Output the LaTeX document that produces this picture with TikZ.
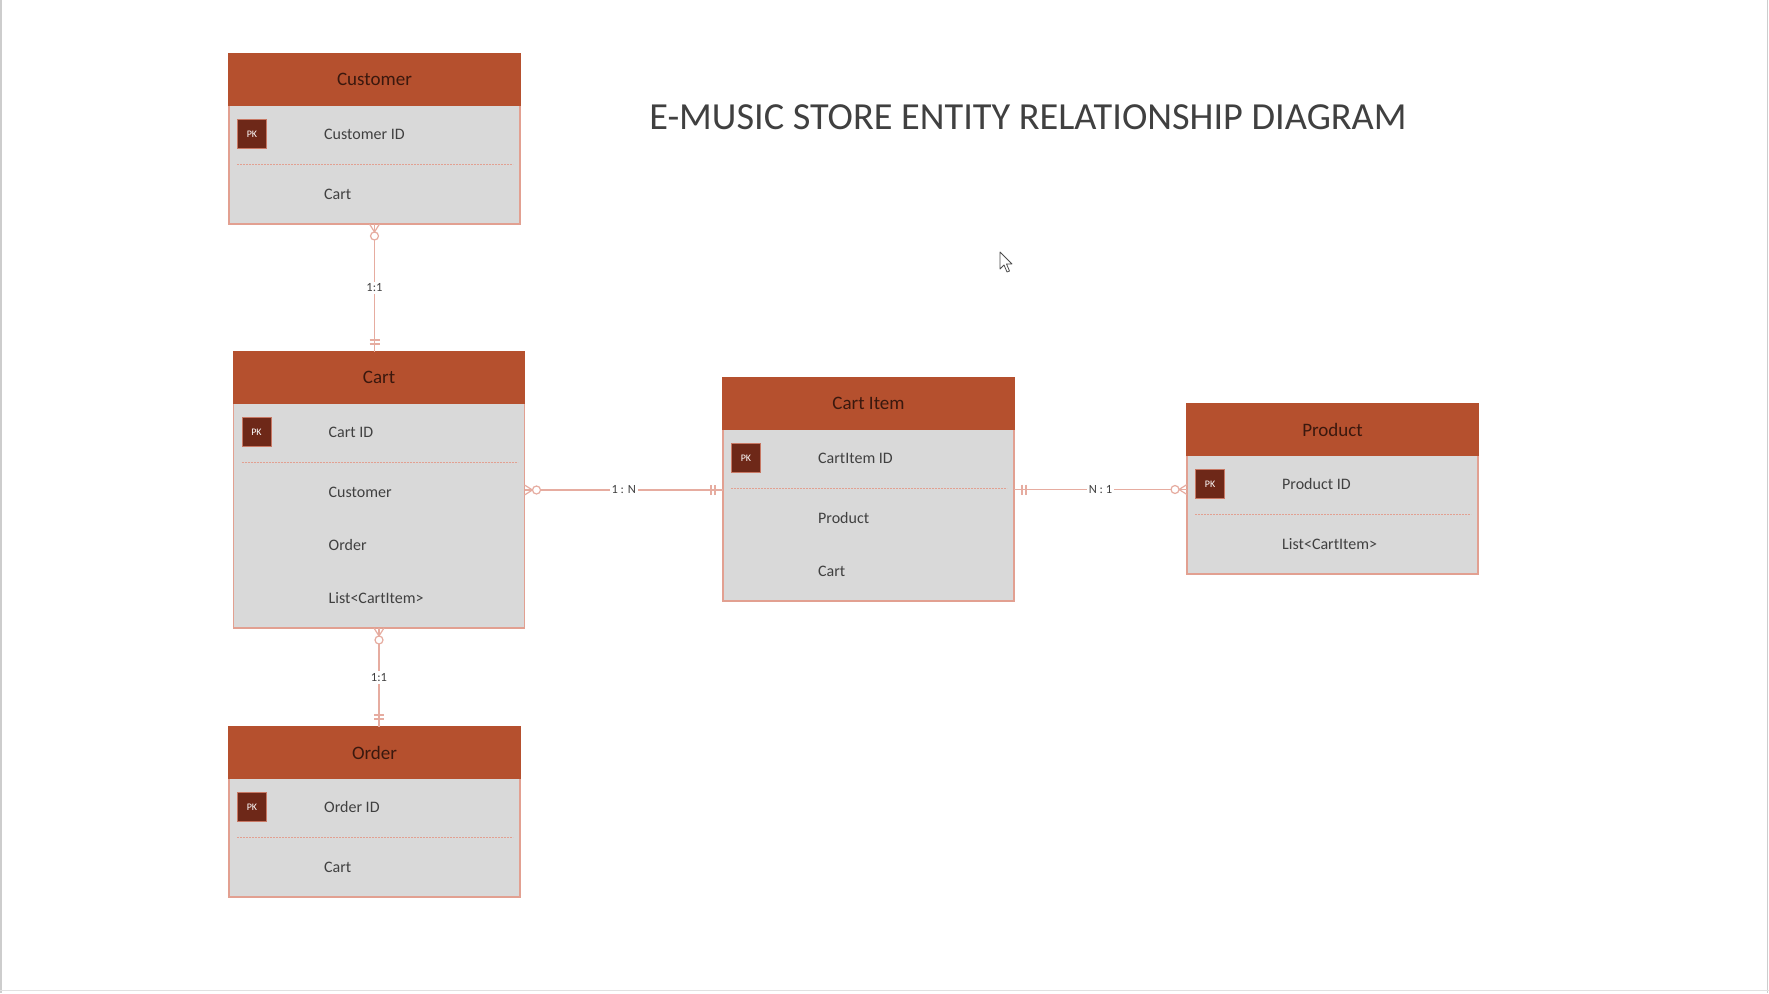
\documentclass[tikz,border=0pt]{standalone}
\usepackage{fontspec}
\setmainfont{Carlito}
\usetikzlibrary{calc}
\definecolor{hdr}{RGB}{181,80,46}
\definecolor{hdrtxt}{RGB}{58,24,14}
\definecolor{bodyc}{RGB}{217,217,217}
\definecolor{edgec}{RGB}{226,160,145}
\definecolor{pkfill}{RGB}{110,40,24}
\definecolor{pkedge}{RGB}{200,120,100}
\definecolor{reln}{RGB}{230,172,160}
\definecolor{txt}{RGB}{64,64,64}
\definecolor{framec}{RGB}{205,205,205}

\tikzset{
 bodybox/.style={draw=edgec, line width=1.3pt, fill=bodyc, minimum width=291pt, inner sep=0pt, outer sep=0pt},
 headbox/.style={draw=hdr, line width=1.3pt, fill=hdr, minimum width=291pt, minimum height=51pt, inner sep=0pt, outer sep=0pt, text=hdrtxt, font=\fontsize{19}{22}\selectfont},
 pkbox/.style={draw=pkedge, line width=0.8pt, fill=pkfill, minimum size=29pt, inner sep=0pt, text=white, font=\fontsize{10}{12}\selectfont},
 attr/.style={anchor=west, inner sep=0pt, text=txt, font=\fontsize{16}{19}\selectfont},
 sepline/.style={draw=edgec, dash pattern=on 2pt off 1pt, line width=1pt},
 rel/.style={draw=reln, line width=1.2pt},
 rellabel/.style={fill=white, inner sep=2pt, text=txt, font=\fontsize{12.5}{14}\selectfont},
 titletext/.style={text=black!75, font=\fontsize{38.3}{44}\selectfont},
}

% entity frame: id, left, top, height, title
\newcommand\erentity[5]{%
  \node[bodybox, minimum height=#4pt, anchor=north west] (#1) at (#2,#3) {};
  \node[headbox, anchor=north west] (#1-h) at (#2,#3) {#5};
}
% primary key row: id, left, top, text
\newcommand\erpk[4]{%
  \node[pkbox] (#1-pk) at (#2+23,#3+80) {PK};
  \node[attr] (#1-id) at (#2+95,#3+80) {#4};
  \draw[sepline] (#2+8,#3+110) -- (#2+284,#3+110);
}
% attribute row: node id, left, y, text
\newcommand\errow[4]{%
  \node[attr] (#1) at (#2+95,#3) {#4};
}
% zero-or-many mark at #1, pointing away from the box at angle #2
\newcommand\zeromany[2]{%
  \begin{scope}[shift={(#1)}, rotate=#2]
    \draw[rel] (0,-5) -- (8,0) -- (0,5);
    \draw[rel, fill=white] (12,0) circle (4pt);
  \end{scope}}
% exactly-one mark
\newcommand\exactlyone[2]{%
  \begin{scope}[shift={(#1)}, rotate=#2]
    \draw[rel] (8,-5) -- (8,5);
    \draw[rel] (12,-5) -- (12,5);
  \end{scope}}

\begin{document}
\begin{tikzpicture}[x=1pt, y=-1pt]
\fill[white] (0,0) rectangle (1769,993);
\useasboundingbox (0,0) rectangle (1769,993);
\draw[framec, line width=1.5pt] (0.75,0) -- (0.75,993);
\draw[framec, line width=1.5pt] (1767.5,0) -- (1767.5,993);
\draw[framec!60, line width=1.5pt] (0,990.5) -- (1769,990.5);

\node[titletext] (title) at (1028,117) {E-MUSIC STORE ENTITY RELATIONSHIP DIAGRAM};

% Customer
\erentity{cust}{229}{54}{170}{Customer}
\erpk{cust}{229}{54}{Customer ID}
\errow{cust-cart}{229}{194}{Cart}

% Cart
\erentity{cart}{233.5}{352}{276}{Cart}
\erpk{cart}{233.5}{352}{Cart ID}
\errow{cart-cust}{233.5}{492}{Customer}
\errow{cart-order}{233.5}{545}{Order}
\errow{cart-list}{233.5}{598}{List<CartItem>}

% Cart Item
\erentity{item}{723}{378}{223}{Cart Item}
\erpk{item}{723}{378}{CartItem ID}
\errow{item-prod}{723}{518}{Product}
\errow{item-cart}{723}{571}{Cart}

% Product
\erentity{prod}{1187}{404}{170}{Product}
\erpk{prod}{1187}{404}{Product ID}
\errow{prod-list}{1187}{544}{List<CartItem>}

% Order
\erentity{order}{229}{727}{170}{Order}
\erpk{order}{229}{727}{Order ID}
\errow{order-cart}{229}{867}{Cart}

% relationships
\draw[rel] (cust.south) -- node[rellabel]{1:1} (cust.south |- cart.north);
\zeromany{cust.south}{-90}
\exactlyone{cust.south |- cart.north}{90}

\draw[rel] (cart.south) -- node[rellabel]{1:1} (cart.south |- order.north);
\zeromany{cart.south}{-90}
\exactlyone{cart.south |- order.north}{90}

\draw[rel] (cart.east) -- node[rellabel]{1 : N} (cart.east -| item.west);
\zeromany{cart.east}{0}
\exactlyone{cart.east -| item.west}{180}

\draw[rel] (item.east) -- node[rellabel]{N : 1} (item.east -| prod.west);
\exactlyone{item.east}{0}
\zeromany{item.east -| prod.west}{180}

% mouse pointer
\draw[fill=white, draw=black!70, line width=0.8pt, line join=round]
  (1000,252) -- ++(0,17) -- ++(4,-4) -- ++(3,7) -- ++(2.5,-1) -- ++(-3,-7) -- ++(5.5,0) -- cycle;
\end{tikzpicture}
\end{document}
